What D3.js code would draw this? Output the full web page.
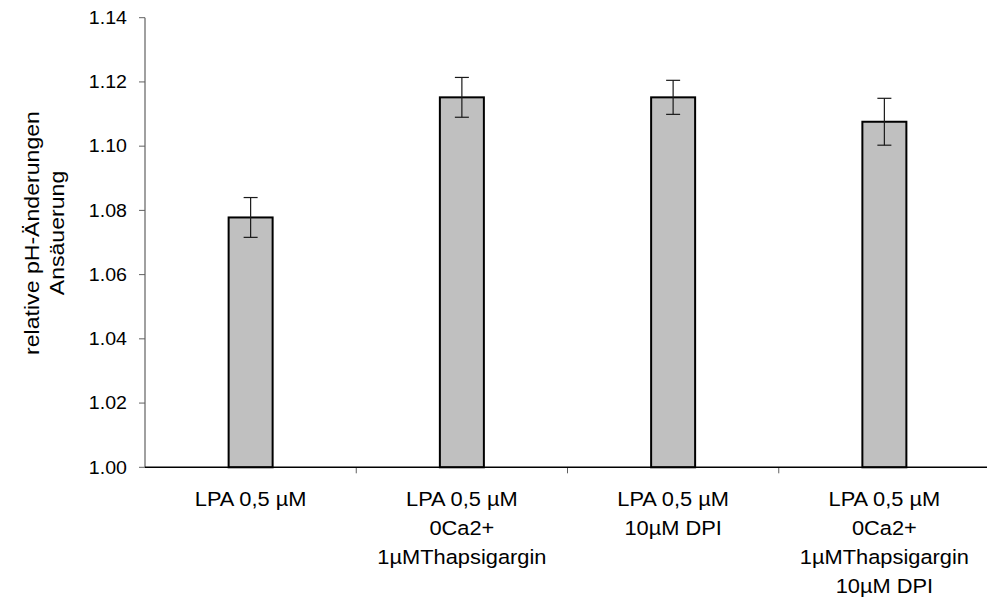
<!DOCTYPE html>
<html>
<head>
<meta charset="utf-8">
<script src="https://cdn.jsdelivr.net/npm/d3@7"></script>
<style>
  html, body { margin: 0; padding: 0; background: #fff; }
  svg { display: block; }
  text { font-family: "Liberation Sans", Arial, sans-serif; fill: #000; }
</style>
</head>
<body>
<svg id="chart" width="987" height="601"></svg>
<script>
// Data
const categories = [
  ["LPA 0,5 µM"],
  ["LPA 0,5 µM", "0Ca2+", "1µMThapsigargin"],
  ["LPA 0,5 µM", "10µM DPI"],
  ["LPA 0,5 µM", "0Ca2+", "1µMThapsigargin", "10µM DPI"]
];
const values = [1.0778, 1.1152, 1.1152, 1.1076];
const errors = [0.0062, 0.0062, 0.0053, 0.0073];
const yTicks = [1.00, 1.02, 1.04, 1.06, 1.08, 1.10, 1.12, 1.14];
const yTitle = ["relative pH-Änderungen", "Ansäuerung"];

const svg = d3.select("#chart");
const mLeft = 145, mRight = 990, mTop = 17.7, mBottom = 467.3;

const x = d3.scaleBand().domain(d3.range(categories.length)).range([mLeft, mRight]).padding(0);
const y = d3.scaleLinear().domain([1.00, 1.14]).range([mBottom, mTop]);
const barW = 44;

// bars
svg.append("g").selectAll("rect").data(values).join("rect")
  .attr("x", (d, i) => x(i) + x.bandwidth() / 2 - barW / 2)
  .attr("y", d => y(d))
  .attr("width", barW)
  .attr("height", d => y(1.00) - y(d))
  .attr("fill", "#c0c0c0")
  .attr("stroke", "#000")
  .attr("stroke-width", 2);

// error bars
const eg = svg.append("g").attr("stroke", "#1a1a1a").attr("stroke-width", 1.2);
values.forEach((v, i) => {
  const cx = x(i) + x.bandwidth() / 2;
  eg.append("line").attr("x1", cx).attr("x2", cx).attr("y1", y(v + errors[i])).attr("y2", y(v - errors[i]));
  eg.append("line").attr("x1", cx - 7).attr("x2", cx + 7).attr("y1", y(v + errors[i])).attr("y2", y(v + errors[i]));
  eg.append("line").attr("x1", cx - 7).attr("x2", cx + 7).attr("y1", y(v - errors[i])).attr("y2", y(v - errors[i]));
});

// y axis
const ya = svg.append("g");
ya.append("line").attr("x1", mLeft).attr("x2", mLeft).attr("y1", y(1.14)).attr("y2", y(1.00))
  .attr("stroke", "#808080").attr("stroke-width", 1.5);
yTicks.forEach(t => {
  ya.append("line").attr("x1", mLeft - 6).attr("x2", mLeft).attr("y1", y(t)).attr("y2", y(t))
    .attr("stroke", "#606060").attr("stroke-width", 1);
  ya.append("text")
    .attr("transform", `translate(${mLeft - 18},${y(t)}) scale(1.12,1)`)
    .attr("text-anchor", "end").attr("dy", "0.36em")
    .style("font-size", "17.5px")
    .text(t.toFixed(2));
});

// x axis
const xa = svg.append("g");
d3.range(categories.length + 1).forEach(i => {
  const xx = mLeft + i * x.bandwidth();
  if (i > 0) xa.append("line").attr("x1", xx).attr("x2", xx).attr("y1", mBottom).attr("y2", mBottom + 6)
    .attr("stroke", "#606060").attr("stroke-width", 1);
});
xa.append("line").attr("x1", mLeft).attr("x2", mRight).attr("y1", mBottom).attr("y2", mBottom)
  .attr("stroke", "#000").attr("stroke-width", 1.5);

categories.forEach((lines, i) => {
  const cx = x(i) + x.bandwidth() / 2;
  lines.forEach((ln, j) => {
    xa.append("text")
      .attr("transform", `translate(${cx},${505.5 + j * 29}) scale(1.12,1)`)
      .attr("text-anchor", "middle")
      .style("font-size", "19.5px")
      .text(ln);
  });
});

// y title
yTitle.forEach((ln, j) => {
  svg.append("text")
    .attr("transform", `translate(${39 + j * 25},233) rotate(-90) scale(1.1,1)`)
    .attr("text-anchor", "middle")
    .style("font-size", "21px")
    .text(ln);
});
</script>
</body>
</html>
